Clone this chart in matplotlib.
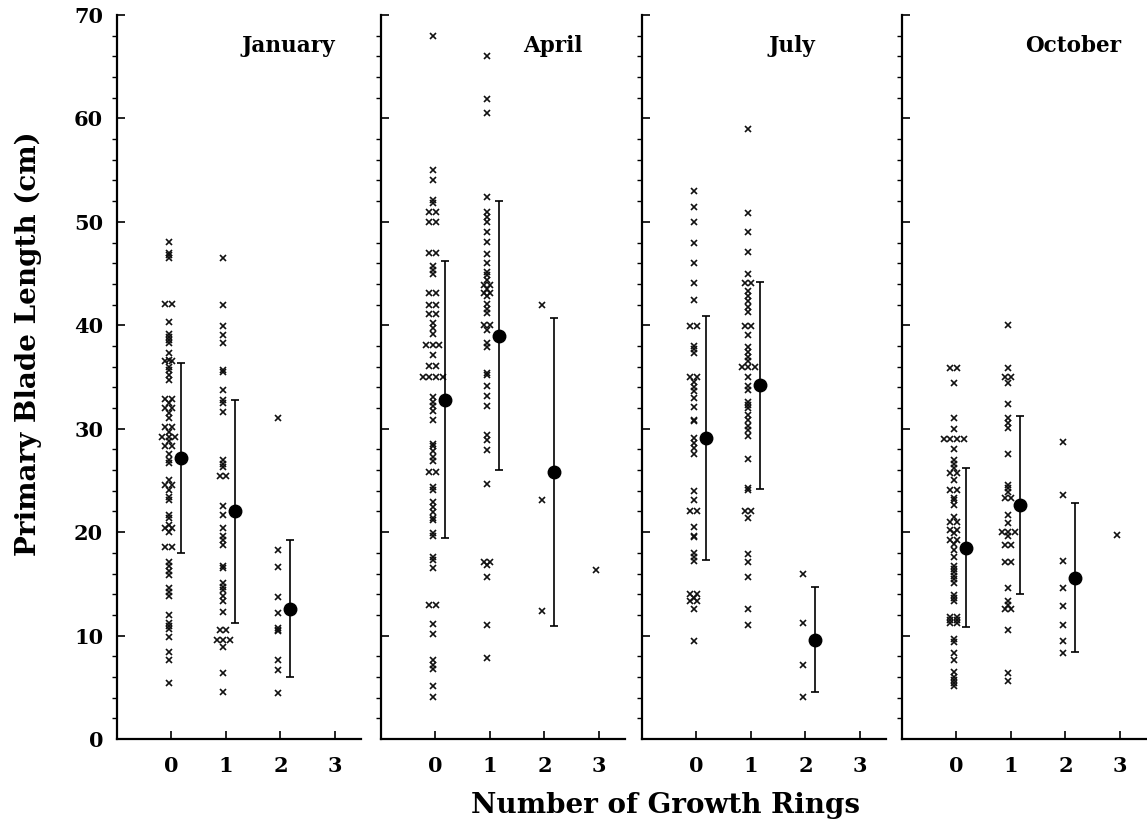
import numpy as np
import matplotlib
matplotlib.use("Agg")
import matplotlib.pyplot as plt
from matplotlib.ticker import MultipleLocator

plt.rcParams['font.family'] = ['DejaVu Serif']
plt.rcParams['font.weight'] = 'bold'

months = ["January", "April", "July", "October"]
rings = [0, 1, 2, 3]

# blade lengths (cm) by number of growth rings, one list per ring class
jan_blades = [
    [48.1, 47.0, 46.8, 46.5, 42.1, 42.1, 40.3, 39.2, 38.9, 38.6, 38.3, 37.3,
     36.6, 36.5, 36.5, 36.0, 35.7, 35.2, 34.7, 32.9, 32.9, 32.5, 32.0, 32.0,
     31.5, 31.0, 30.2, 30.2, 29.7, 29.2, 29.2, 29.2, 28.8, 28.3, 28.3, 27.6,
     27.0, 26.7, 25.0, 24.6, 24.6, 24.1, 23.4, 23.1, 21.7, 21.4, 20.7, 20.4,
     20.4, 20.0, 18.6, 18.6, 17.1, 16.7, 16.2, 15.9, 14.6, 14.2, 13.8, 12.0,
     11.2, 10.9, 10.6, 9.9, 8.4, 7.6, 5.4],
    [46.5, 42.0, 39.9, 39.1, 38.3, 35.7, 35.5, 33.7, 32.8, 32.5, 31.6, 27.0,
     26.6, 26.3, 25.4, 25.4, 22.5, 21.7, 20.4, 19.6, 19.2, 18.8, 16.7, 16.5,
     15.1, 14.7, 14.4, 13.8, 13.3, 12.3, 10.5, 10.5, 9.6, 9.6, 9.6, 8.9, 6.4,
     4.5],
    [31.0, 18.3, 16.6, 13.7, 12.2, 10.7, 10.5, 10.4, 7.6, 6.7, 4.4],
    [],
]
apr_blades = [
    [68.0, 55.0, 54.0, 52.1, 51.8, 51.0, 51.0, 50.0, 50.0, 47.0, 47.0, 45.7,
     45.3, 45.0, 43.1, 43.1, 42.0, 42.0, 41.1, 41.1, 40.2, 39.7, 39.2, 38.1,
     38.1, 38.1, 37.1, 36.1, 36.1, 35.0, 35.0, 35.0, 35.0, 33.1, 32.6, 32.2,
     31.7, 30.8, 28.5, 28.3, 27.8, 27.3, 26.9, 25.8, 25.8, 24.4, 24.1, 22.9,
     22.4, 21.9, 21.4, 21.2, 19.9, 19.6, 17.6, 17.3, 16.5, 13.0, 13.0, 11.1,
     10.2, 7.6, 7.2, 6.8, 5.1, 4.1],
    [66.0, 61.9, 60.5, 52.4, 51.0, 50.5, 50.0, 49.0, 48.1, 46.9, 46.0, 45.2,
     44.9, 44.4, 43.9, 43.9, 43.5, 43.1, 43.1, 42.8, 42.1, 41.6, 41.2, 40.0,
     40.0, 39.5, 38.3, 37.9, 35.4, 35.2, 34.1, 33.2, 32.2, 29.4, 28.9, 27.9,
     24.7, 17.1, 17.1, 16.8, 15.7, 11.0, 7.8],
    [42.0, 23.1, 12.4],
    [16.3],
]
jul_blades = [
    [53.0, 51.4, 50.0, 48.0, 46.0, 44.1, 42.4, 39.9, 39.9, 38.0, 37.7, 37.3,
     35.0, 35.0, 34.5, 34.0, 33.6, 33.0, 32.1, 30.8, 30.7, 29.1, 28.6, 28.1,
     27.6, 24.0, 23.1, 22.0, 22.0, 20.5, 19.6, 19.5, 18.0, 17.6, 17.2, 14.0,
     14.0, 13.6, 13.3, 13.3, 12.6, 9.5],
    [59.0, 50.9, 49.0, 47.1, 45.0, 44.1, 44.1, 43.3, 42.8, 42.3, 41.8, 41.3,
     39.9, 39.9, 39.1, 37.9, 37.4, 36.9, 36.5, 36.0, 36.0, 36.0, 35.0, 34.1,
     33.7, 32.6, 32.3, 32.0, 31.3, 30.8, 30.3, 29.9, 29.3, 27.1, 24.3, 24.1,
     22.0, 22.0, 21.4, 17.9, 17.1, 15.7, 12.6, 11.0],
    [16.0, 11.2, 7.2, 4.1],
    [],
]
oct_blades = [
    [35.9, 35.9, 34.4, 31.0, 30.0, 29.0, 29.0, 29.0, 29.0, 28.0, 27.0, 26.6,
     26.2, 25.7, 25.7, 25.0, 24.1, 24.1, 23.3, 23.1, 22.6, 21.5, 21.0, 21.0,
     20.2, 20.2, 19.9, 19.2, 19.2, 18.9, 18.3, 17.6, 16.7, 16.4, 16.1, 15.8,
     15.5, 15.1, 13.9, 13.6, 13.3, 11.8, 11.8, 11.5, 11.5, 11.2, 11.2, 9.7,
     9.4, 8.3, 7.6, 6.5, 6.0, 5.7, 5.4, 5.1],
    [40.0, 35.9, 35.0, 35.0, 34.4, 32.4, 31.0, 30.6, 30.1, 27.6, 24.6, 24.3,
     23.9, 23.3, 23.3, 21.7, 20.9, 20.0, 20.0, 20.0, 19.6, 18.8, 18.8, 17.1,
     17.1, 14.6, 13.3, 13.0, 12.6, 12.6, 10.5, 6.4, 5.6],
    [28.7, 23.6, 17.2, 14.6, 12.9, 11.0, 9.5, 8.3],
    [19.7],
]
blades = [jan_blades, apr_blades, jul_blades, oct_blades]

# group means and standard deviations (ring classes 0-2)
jan_mean = [27.2, 22.0, 12.6]
jan_sd = [9.2, 10.8, 6.6]
apr_mean = [32.8, 39.0, 25.8]
apr_sd = [13.4, 13.0, 14.9]
jul_mean = [29.1, 34.2, 9.6]
jul_sd = [11.8, 10.0, 5.1]
oct_mean = [18.5, 22.6, 15.6]
oct_sd = [7.7, 8.6, 7.2]
means = [jan_mean, apr_mean, jul_mean, oct_mean]
sds = [jan_sd, apr_sd, jul_sd, oct_sd]

label_x = [2.15, 2.15, 1.75, 2.15]

fig = plt.figure(figsize=(11.47, 8.39), dpi=100)
lefts = [117, 381, 642, 902]
W, H = 1147.0, 839.0

for k, month in enumerate(months):
    ax = fig.add_axes([lefts[k] / W, 1 - 739 / H, 244 / W, 724 / H])
    for r, vals in zip(rings, blades[k]):
        vals = np.array(vals)
        xs = np.full(len(vals), r - 0.05)
        # spread tied values side by side
        for v in np.unique(vals):
            idx = np.where(vals == v)[0]
            n = len(idx)
            xs[idx] += (np.arange(n) - (n - 1) / 2) * 0.12
        ax.plot(xs, vals, 'x', color='#111111', ms=5, mew=1.2)
    mx = np.array(rings[:len(means[k])]) + 0.17
    ax.errorbar(mx, means[k], yerr=sds[k], fmt='o', color='black',
                ms=9, elinewidth=1.2, capsize=3, capthick=1.2)
    ax.text(label_x[k], 67, month, ha='center', va='center', fontsize=15.5,
            fontweight='bold')

    ax.set_xlim(-1, 3.48)
    ax.set_ylim(0, 70)
    ax.set_xticks(rings)
    ax.yaxis.set_major_locator(MultipleLocator(10))
    ax.yaxis.set_minor_locator(MultipleLocator(2))
    ax.tick_params(direction='in', width=1.2, labelsize=15)
    ax.tick_params(axis='y', which='major', length=6)
    ax.tick_params(axis='y', which='minor', length=3.5, width=1.0)
    ax.tick_params(axis='x', length=6, pad=12)
    for s in ['top', 'right']:
        ax.spines[s].set_visible(False)
    for s in ['left', 'bottom']:
        ax.spines[s].set_linewidth(1.6)
    if k > 0:
        ax.set_yticklabels([])
    else:
        ax.tick_params(axis='y', pad=10)

fig.text(0.025, 0.59, "Primary Blade Length (cm)", rotation=90, ha='center',
         va='center', fontsize=20, fontweight='bold')
fig.text(0.58, 0.04, "Number of Growth Rings", ha='center', va='center',
         fontsize=20, fontweight='bold')

fig.savefig("out.png", dpi=100)
